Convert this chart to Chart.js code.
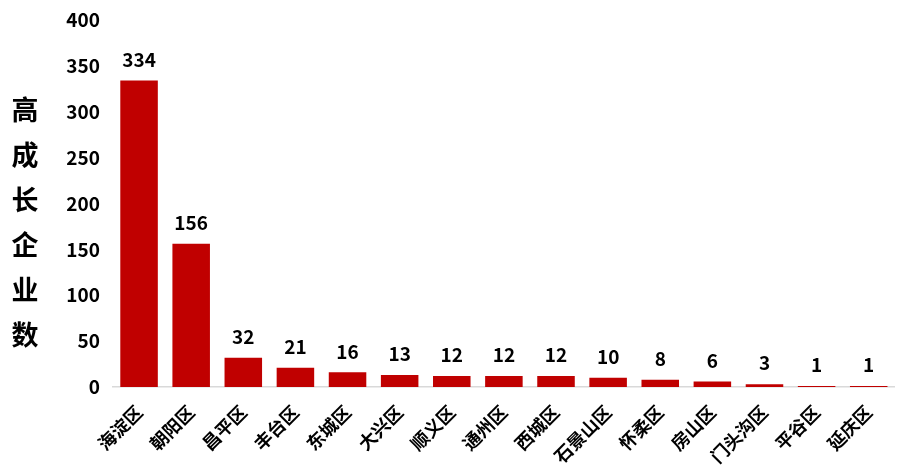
<!DOCTYPE html>
<html>
<head>
<meta charset="utf-8">
<script src="https://cdn.jsdelivr.net/npm/chart.js@4.4.0/dist/chart.umd.min.js"></script>
<style>
  html, body { margin: 0; padding: 0; background: #fff; }
  #wrap { width: 898px; height: 467px; position: relative; }
</style>
</head>
<body>
<div id="wrap"><canvas id="bar_chart"></canvas></div>
<script>
var districts = ['海淀区', '朝阳区', '昌平区', '丰台区', '东城区', '大兴区', '顺义区', '通州区', '西城区', '石景山区', '怀柔区', '房山区', '门头沟区', '平谷区', '延庆区'];
var counts = [334, 156, 32, 21, 16, 13, 12, 12, 12, 10, 8, 6, 3, 1, 1];
var yTicks = [0, 50, 100, 150, 200, 250, 300, 350, 400];
var yTitle = '高成长企业数';

var FONT = '"Noto Sans CJK SC", "Noto Sans", sans-serif';

// value labels above bars
var valueLabels = {
    id: 'valueLabels',
    afterDatasetsDraw: function (chart) {
        var ctx = chart.ctx;
        var meta = chart.getDatasetMeta(0);
        ctx.save();
        ctx.font = 'bold 19px ' + FONT;
        ctx.fillStyle = '#000';
        ctx.textAlign = 'center';
        ctx.textBaseline = 'middle';
        meta.data.forEach(function (bar, i) {
            ctx.fillText(counts[i], bar.x, bar.y - 21);
        });
        ctx.restore();
    }
};

// stacked vertical y axis title
var stackedTitle = {
    id: 'stackedTitle',
    afterDraw: function (chart) {
        var ctx = chart.ctx;
        ctx.save();
        ctx.font = 'bold 27px ' + FONT;
        ctx.fillStyle = '#000';
        ctx.textAlign = 'center';
        ctx.textBaseline = 'middle';
        yTitle.split('').forEach(function (ch, i) {
            ctx.fillText(ch, 25, 110 + i * 45);
        });
        ctx.restore();
    }
};

var ctx = document.getElementById('bar_chart').getContext('2d');
var myChart = new Chart(ctx, {
    type: 'bar',
    data: {
        labels: districts,
        datasets: [{
            label: yTitle,
            data: counts,
            backgroundColor: '#C00000',
            categoryPercentage: 1.0,
            barPercentage: 0.72
        }]
    },
    options: {
        responsive: true,
        maintainAspectRatio: false,
        animation: false,
        layout: { padding: { top: 20, right: 0, left: 0, bottom: 0 } },
        plugins: {
            legend: { display: false },
            title: { display: false },
            tooltip: { enabled: false }
        },
        scales: {
            x: {
                afterFit: function (axis) { axis.height = 80; },
                grid: { display: false, drawTicks: false },
                border: { display: true, color: '#D9D9D9', width: 1.5 },
                ticks: {
                    color: '#000',
                    font: { family: FONT, size: 18, weight: 'bold' },
                    minRotation: 45,
                    maxRotation: 45,
                    padding: 14,
                    autoSkip: false
                }
            },
            y: {
                min: 0,
                max: 400,
                afterBuildTicks: function (axis) {
                    axis.ticks = yTicks.map(function (v) { return { value: v }; });
                },
                afterFit: function (axis) {
                    axis.width = 113;
                    axis.paddingTop = 0;
                    axis.paddingBottom = 0;
                },
                grid: { display: false, drawTicks: false },
                border: { display: false },
                ticks: {
                    color: '#000',
                    font: { family: FONT, size: 19, weight: 'bold' },
                    padding: 13
                }
            }
        }
    },
    plugins: [valueLabels, stackedTitle]
});
</script>
</body>
</html>
